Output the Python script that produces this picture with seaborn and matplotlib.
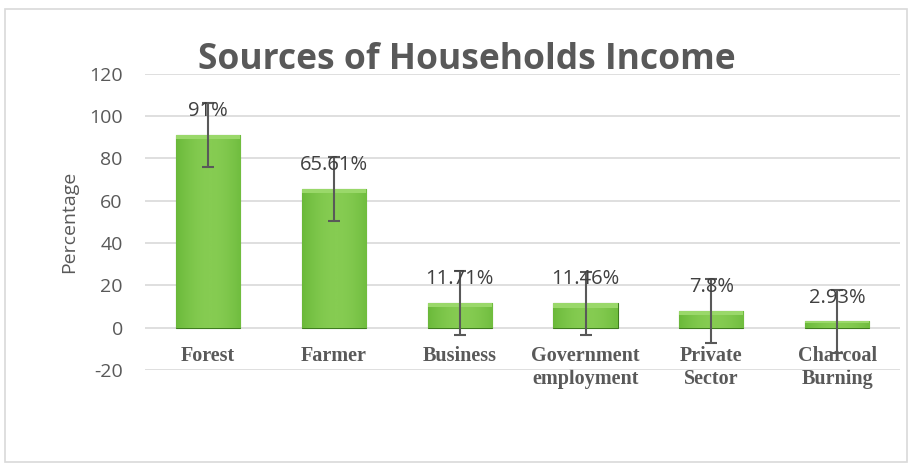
import numpy as np
import pandas as pd
import matplotlib
matplotlib.use("Agg")
import matplotlib.pyplot as plt
from matplotlib.patches import Rectangle
import seaborn as sns

# Data
categories = ["Forest", "Farmer", "Business", "Government\nemployment",
              "Private\nSector", "Charcoal\nBurning"]
values = [91, 65.61, 11.71, 11.46, 7.8, 2.93]
value_labels = ["91%", "65.61%", "11.71%", "11.46%", "7.8%", "2.93%"]
error = [15, 15, 15, 15, 15, 15]

df = pd.DataFrame({"category": categories, "value": values})

sns.set_style("white")
plt.rcParams["font.family"] = ["Open Sans", "DejaVu Sans"]
plt.rcParams["axes.unicode_minus"] = False

fig = plt.figure(figsize=(9.12, 4.70), dpi=100)
ax = fig.add_axes([0.159, 0.213, 0.828, 0.630])

sns.barplot(data=df, x="category", y="value", color="#66b032",
            width=0.51, errorbar=None, ax=ax, zorder=2,
            edgecolor="#3f7d1f", linewidth=0.8)

# gradient fill to mimic the bevelled Excel bars
grad = np.linspace(0, 1, 256)
grad = 0.55 + 0.45 * np.sin(np.pi * (grad * 0.85 + 0.05))
cmap = matplotlib.colors.LinearSegmentedColormap.from_list(
    "g", ["#3f7f1c", "#6dbb3c", "#86cc52"])
for p in ax.patches:
    x0, y0 = p.get_x(), p.get_y()
    w, h = p.get_width(), p.get_height()
    im = ax.imshow(grad[np.newaxis, :], cmap=cmap, aspect="auto",
                   extent=[x0, x0 + w, y0, y0 + h], zorder=2.1,
                   vmin=0.3, vmax=1.0)
    im.set_clip_path(p)
    # top bevel highlight
    ax.add_patch(Rectangle((x0, y0 + h - min(2.0, h * 0.3)), w, min(2.0, h * 0.3),
                           facecolor="#9ad86a", edgecolor="none", zorder=2.2))

ax.errorbar(range(len(values)), values, yerr=error, fmt="none",
            ecolor="#595959", elinewidth=1.5, capsize=4.3, capthick=1.5,
            zorder=3)

for i, (v, lab) in enumerate(zip(values, value_labels)):
    ax.annotate(lab, (i, v), xytext=(0, 10), textcoords="offset points",
                ha="center", va="bottom", fontsize=14.5, color="#404040",
                zorder=4)

ax.set_ylim(-20, 120)
ax.set_yticks(range(-20, 121, 20))
ax.set_xlim(-0.5, len(values) - 0.5)
ax.grid(axis="y", color="#d9d9d9", linewidth=1.2, zorder=0)
ax.set_axisbelow(True)
for s in ax.spines.values():
    s.set_visible(False)
ax.spines["bottom"].set_position(("data", 0))
ax.tick_params(axis="y", length=0, pad=16, labelsize=14, labelcolor="#595959")
ax.tick_params(axis="x", length=0, pad=13)
ax.set_xticks(range(len(categories)))
ax.set_xticklabels(categories, fontfamily="Liberation Serif",
                   fontweight="bold", fontsize=14.5, color="#595959",
                   linespacing=1.25)
ax.set_xlabel("")
ax.set_ylabel("Percentage", fontsize=14, color="#595959", labelpad=8)

fig.text(0.512, 0.872, "Sources of Households Income", ha="center",
         va="center", fontsize=25.5, fontweight="bold", color="#595959")

fig.patches.append(Rectangle((0.006, 0.017), 0.988, 0.963, transform=fig.transFigure,
                             fill=False, edgecolor="#d9d9d9", linewidth=1.2))

fig.savefig("out.png", dpi=100)
